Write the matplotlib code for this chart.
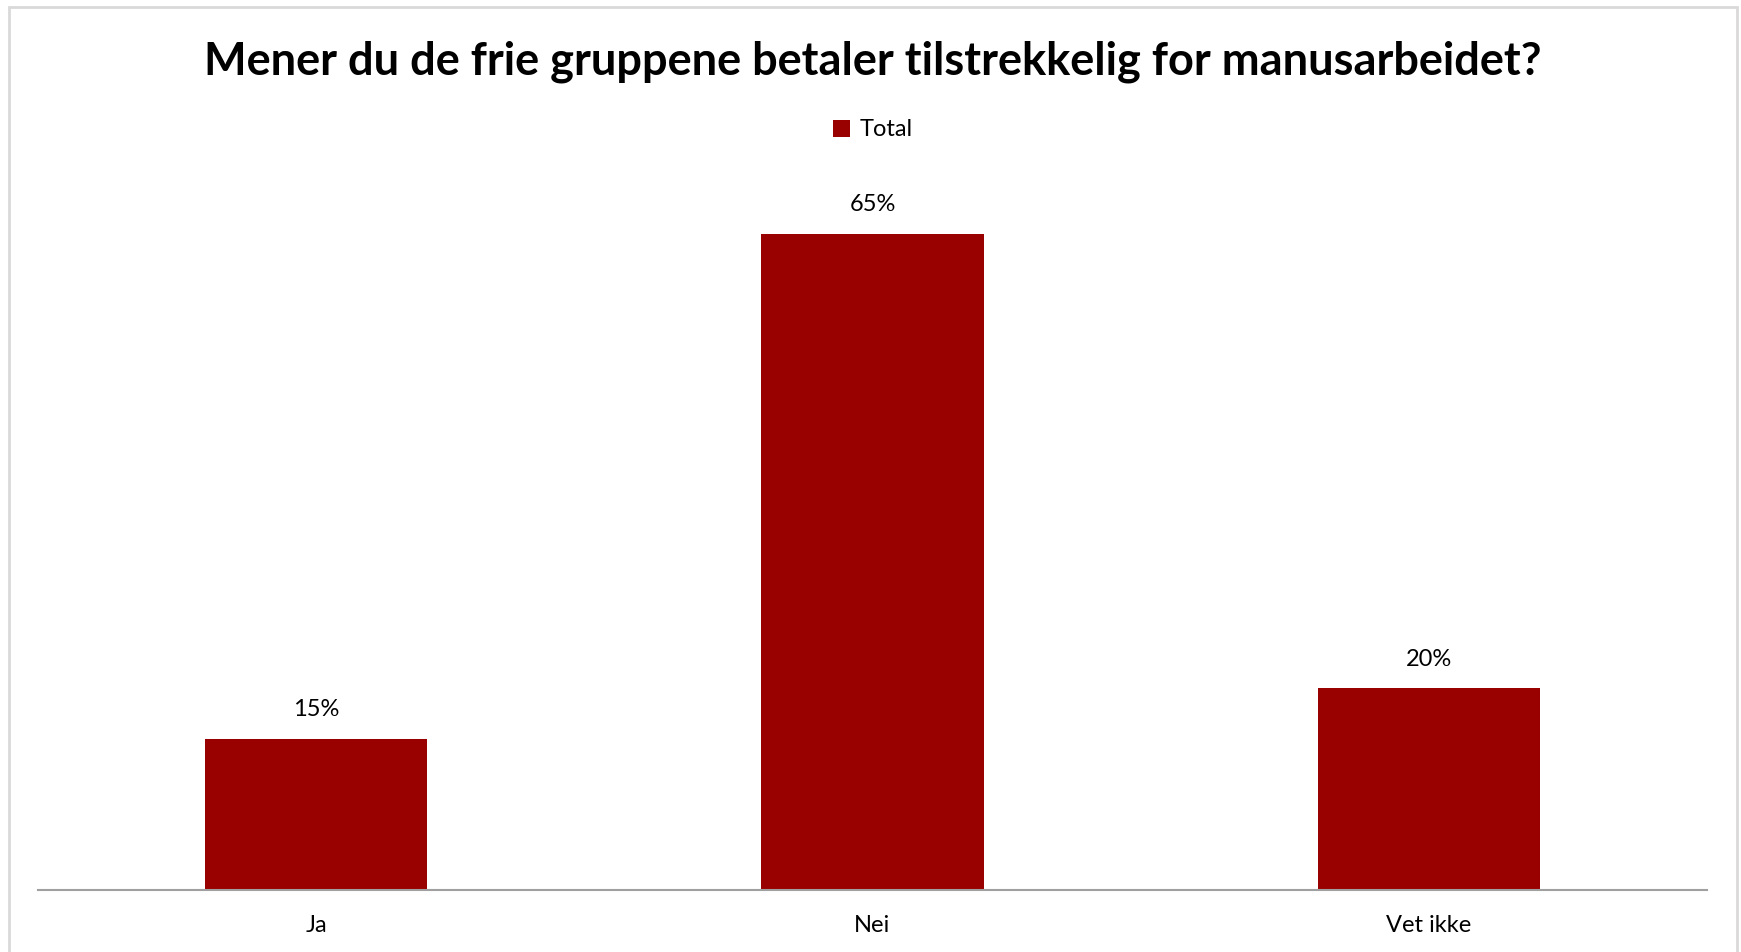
import matplotlib.pyplot as plt
from matplotlib.patches import Rectangle

plt.rcParams['font.family'] = ['Lato', 'DejaVu Sans']

categories = ['Ja', 'Nei', 'Vet ikke']
values = [15, 65, 20]
labels = ['15%', '65%', '20%']

W, H = 1741, 952
fig = plt.figure(figsize=(W / 100, H / 100), dpi=100)

# outer chart border (bottom is cut off in the original)
fig.patches.append(Rectangle((8.5 / W, -0.05), (1737 - 8.5) / W, 1.05 - 6.5 / H,
                             transform=fig.transFigure, fill=False,
                             edgecolor='#d9d9d9', linewidth=2))

ax = fig.add_axes([38 / W, (H - 890) / H, (1707 - 38) / W, (890 - 183) / H])
bars = ax.bar(range(len(categories)), values, width=0.4, color='#990000', label='Total')
ax.set_xlim(-0.5, 2.5)
ax.set_ylim(0, 70)

for b, lab in zip(bars, labels):
    ax.annotate(lab, (b.get_x() + b.get_width() / 2, b.get_height()),
                xytext=(0, 13), textcoords='offset points', ha='center', va='bottom',
                fontsize=17)

ax.set_xticks(range(len(categories)))
ax.set_xticklabels(categories, fontsize=17)
ax.tick_params(axis='x', length=0, pad=18)
ax.set_yticks([])
for s in ['top', 'right', 'left']:
    ax.spines[s].set_visible(False)
ax.spines['bottom'].set_color('#a0a0a0')
ax.spines['bottom'].set_linewidth(1.5)

fig.text(873 / W, 1 - 62 / H, 'Mener du de frie gruppene betaler tilstrekkelig for manusarbeidet?',
         ha='center', va='center', fontsize=32.5, fontweight='bold')

fig.legend(loc='center', bbox_to_anchor=(873 / W, 1 - 130 / H), frameon=False,
           fontsize=17, handlelength=0.7, handleheight=0.7, handletextpad=0.4)

fig.savefig('out.png', dpi=100)
